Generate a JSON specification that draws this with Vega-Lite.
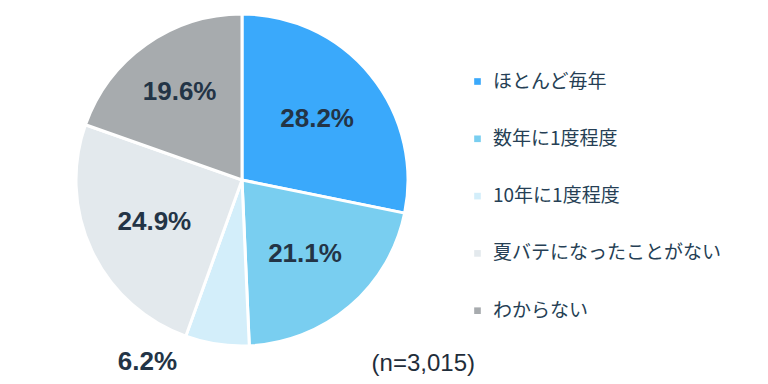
{
  "$schema": "https://vega.github.io/schema/vega-lite/v6.json",
  "width": 484,
  "height": 360,
  "autosize": {"type": "none"},
  "padding": {"left": 0, "top": 0, "right": 284, "bottom": 24},
  "background": "white",
  "title": {
    "text": "(n=3,015)",
    "orient": "bottom",
    "anchor": "end",
    "frame": "group",
    "baseline": "alphabetic",
    "offset": 0,
    "dx": -9,
    "dy": -4,
    "font": "Liberation Sans",
    "fontSize": 24,
    "fontWeight": "normal",
    "color": "#1f2d3a"
  },
  "data": {
    "values": [
      {"category": "ほとんど毎年", "value": 28.2, "label": "28.2%", "order": 1},
      {"category": "数年に1度程度", "value": 21.1, "label": "21.1%", "order": 2},
      {"category": "10年に1度程度", "value": 6.2, "label": "6.2%", "order": 3},
      {"category": "夏バテになったことがない", "value": 24.9, "label": "24.9%", "order": 4},
      {"category": "わからない", "value": 19.6, "label": "19.6%", "order": 5}
    ]
  },
  "encoding": {
    "theta": {"field": "value", "type": "quantitative", "stack": true},
    "order": {"field": "order", "type": "quantitative"}
  },
  "layer": [
    {
      "mark": {"type": "arc", "outerRadius": 166, "stroke": "white", "strokeWidth": 3},
      "encoding": {
        "color": {
          "field": "category",
          "type": "nominal",
          "scale": {
            "domain": ["ほとんど毎年", "数年に1度程度", "10年に1度程度", "夏バテになったことがない", "わからない"],
            "range": ["#3aa9fb", "#79cef0", "#d3eefa", "#e3e9ed", "#a7abae"]
          },
          "legend": {
            "title": null,
            "orient": "none",
            "legendX": 468,
            "legendY": 72,
            "symbolType": "square",
            "symbolSize": 44,
            "symbolStrokeWidth": 0,
            "labelFont": "Noto Sans CJK JP",
            "labelFontSize": 19,
            "labelColor": "#263f55",
            "labelOffset": 6,
            "rowPadding": 37.3,
            "labelLimit": 300
          }
        }
      }
    },
    {
      "mark": {"type": "text", "radius": 97, "font": "Liberation Sans", "fontSize": 26, "fontWeight": "bold", "color": "#233446"},
      "encoding": {
        "text": {"field": "label"},
        "opacity": {"condition": {"test": "datum.order == 3 || datum.order == 5", "value": 0}, "value": 1}
      }
    },
    {
      "mark": {"type": "text", "radius": 108, "font": "Liberation Sans", "fontSize": 26, "fontWeight": "bold", "color": "#233446"},
      "encoding": {
        "text": {"field": "label"},
        "opacity": {"condition": {"test": "datum.order == 5", "value": 1}, "value": 0}
      }
    },
    {
      "mark": {"type": "text", "radius": 184, "dx": -67, "font": "Liberation Sans", "fontSize": 26, "fontWeight": "bold", "color": "#233446"},
      "encoding": {
        "text": {"field": "label"},
        "opacity": {"condition": {"test": "datum.order == 3", "value": 1}, "value": 0}
      }
    }
  ]
}
